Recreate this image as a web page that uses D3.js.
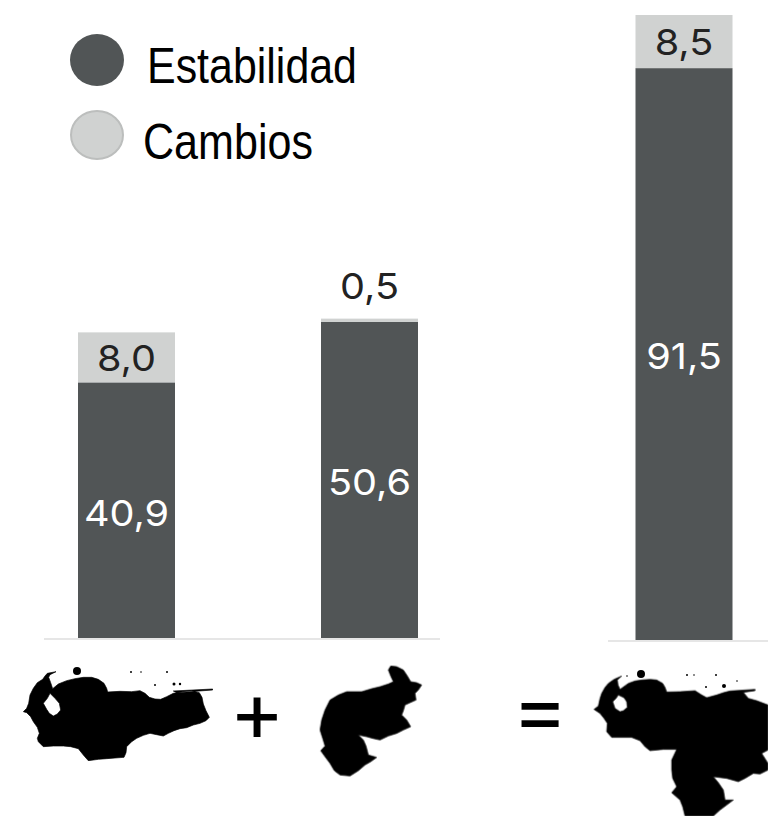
<!DOCTYPE html>
<html lang="es">
<head>
<meta charset="utf-8">
<title>Estabilidad y cambios</title>
<script src="https://d3js.org/d3.v7.min.js"></script>
<style>
html,body{margin:0;padding:0;background:#fff;overflow:hidden;}
svg{display:block;}
.valor{font-family:Inter,"Open Sans",sans-serif;font-size:36px;text-anchor:middle;}
.leyenda{font-family:"Liberation Sans",sans-serif;font-size:50px;fill:#000;}
.signo{font-family:Inter,sans-serif;font-size:84px;text-anchor:middle;fill:#000;}
</style>
</head>
<body>
<div id="chart1"></div>
<script>
// datos
var regiones = ["norte","sur","total"]
var estabilidad = [40.9,50.6,91.5]
var cambios = [8.0,0.5,8.5]
var series = ["Estabilidad","Cambios"]
var colores = ["#515556","#d0d2d1"]

var w = 768, h = 816

// siluetas del mapa (trazadas a mano, coordenadas del zoom 3x)
var mapaNorte = "M70,215 L80,205 L86,190 L90,165 L100,145 L112,128 L128,118 L135,108 L142,100 L168,95 L150,104 L146,112 L152,128 L158,146 L175,132 L200,122 L225,116 L250,112 L275,112 L295,118 L312,130 L320,145 L323,156 L360,154 L395,155 L420,152 L435,160 L448,172 L465,177 L482,178 L500,170 L520,160 L548,155 L575,152 L598,158 L606,172 L610,192 L618,212 L628,232 L618,242 L600,250 L580,255 L560,263 L540,266 L522,272 L505,280 L490,288 L470,284 L450,280 L430,286 L410,295 L395,305 L380,320 L378,338 L372,352 L345,354 L320,356 L295,358 L265,362 L250,345 L235,326 L212,320 L190,318 L160,318 L130,320 L115,305 L112,295 L118,280 L112,262 L100,245 L92,230 L80,218 Z M130,190 L142,175 L150,160 L165,175 L178,190 L182,210 L172,222 L160,228 L148,220 L140,208 Z M520,153 L638,147 L638,150 L530,158 Z"
var mapaSur = "M1165,90 L1172,78 L1190,80 L1210,90 L1222,108 L1232,125 L1250,128 L1265,135 L1255,150 L1245,160 L1248,180 L1230,188 L1215,195 L1210,212 L1205,225 L1220,240 L1232,260 L1210,270 L1190,280 L1165,288 L1140,300 L1118,295 L1100,290 L1075,285 L1090,300 L1098,318 L1105,345 L1130,352 L1112,365 L1095,375 L1075,392 L1050,408 L1020,405 L1003,392 L990,370 L975,350 L962,332 L975,318 L968,295 L960,270 L965,240 L975,210 L990,180 L1015,165 L1040,155 L1085,155 L1115,146 L1140,140 L1165,132 L1180,125 L1172,108 Z"
var mapaTotal = "M282,238 L295,228 L300,205 L305,190 L315,172 L325,160 L342,148 L365,138 L352,150 L354,165 L360,178 L385,160 L405,153 L425,150 L450,148 L470,150 L488,160 L495,172 L500,186 L540,185 L585,182 L605,195 L620,203 L650,195 L670,188 L690,183 L765,178 L765,182 L730,187 L745,205 L770,212 L804,225 L804,360 L785,370 L804,400 L804,420 L780,432 L760,430 L735,445 L715,455 L680,445 L640,440 L655,458 L670,480 L675,510 L700,510 L680,525 L660,540 L640,558 L555,558 L548,530 L540,510 L515,488 L530,470 L518,445 L515,420 L515,390 L530,358 L490,358 L450,362 L435,350 L420,332 L395,322 L380,322 L335,322 L320,305 L322,280 L312,265 L300,250 Z M338,215 L348,205 L355,195 L372,203 L380,215 L382,232 L370,242 L360,245 L345,235 Z"

var svg = d3.select("#chart1").append("svg").attr("width",w).attr("height",h)

var defs = svg.append("defs")
defs.append("filter").attr("id","suave").append("feGaussianBlur").attr("stdDeviation",0.7)

var xScale = d3.scaleOrdinal().domain(regiones).range([126.5,369.5,684])
var base = d3.scaleOrdinal().domain(regiones).range([638,638,640])
var hScale = d3.scaleLinear().domain([0,100]).range([0,625])
var anchoBarra = 97

var filas = regiones.map(function(r,i){
    return {region:r, Estabilidad:estabilidad[i], Cambios:cambios[i]}
})
var apilado = d3.stack().keys(series)(filas)

// lineas de base
svg.append("line").attr("x1",44).attr("x2",440).attr("y1",639).attr("y2",639)
    .attr("stroke","#e6e6e6").attr("stroke-width",2)
svg.append("line").attr("x1",608).attr("x2",768).attr("y1",641).attr("y2",641)
    .attr("stroke","#e6e6e6").attr("stroke-width",2)

// barras
var capas = svg.selectAll("g.capa").data(apilado).enter().append("g").attr("class","capa")
    .attr("fill",function(d,i){ return colores[i] })
capas.selectAll("rect").data(function(d){ return d }).enter().append("rect")
    .attr("x",function(d){ return xScale(d.data.region)-anchoBarra/2 })
    .attr("y",function(d){ return base(d.data.region)-hScale(d[1]) })
    .attr("width",anchoBarra)
    .attr("height",function(d){ return hScale(d[1])-hScale(d[0]) })

// etiquetas, estiradas porque la letra original es mas ancha
capas.selectAll("text").data(function(d){ return d.map(function(p){ return {p:p,key:d.key} }) }).enter().append("text")
    .attr("class","valor")
    .attr("transform",function(d){
        var b = base(d.p.data.region)
        var alto = hScale(d.p[1])-hScale(d.p[0])
        var y = b-hScale(d.p[0])-alto/2+(d.key=="Estabilidad" ? 2 : 0)
        if(alto<15) y = b-hScale(d.p[1])-33 // muy chica, va encima
        return "translate("+xScale(d.p.data.region)+","+y+") scale(1.1,1)"
    })
    .attr("dominant-baseline","central")
    .attr("fill",function(d){ return d.key=="Estabilidad" ? "#fff" : "#222" })
    .text(function(d){ return d3.format(".1f")(d.p[1]-d.p[0]).replace(".",",") })

// leyenda
var leyY = [60,135]
var ley = svg.selectAll("g.ley").data(series).enter().append("g").attr("class","ley")
ley.append("ellipse").attr("cx",97).attr("cy",function(d,i){ return leyY[i] })
    .attr("rx",function(d,i){ return i ? 26 : 27 }).attr("ry",function(d,i){ return i ? 24 : 26 })
    .attr("fill",function(d,i){ return colores[i] })
    .attr("stroke",function(d,i){ return i ? "#bcbebd" : "none" }).attr("stroke-width",2)
ley.append("text").attr("class","leyenda")
    .attr("x",function(d,i){ return i ? 143 : 147 })
    .attr("y",function(d,i){ return [83,159][i] })
    .attr("textLength",function(d,i){ return [210,170][i] })
    .attr("lengthAdjust","spacingAndGlyphs")
    .text(function(d){ return d })

// mapas
var mapas = [[mapaNorte,0,640],[mapaSur,0,640],[mapaTotal,500,630]]
var gm = svg.append("g").attr("filter","url(#suave)")
gm.selectAll("path.mapa").data(mapas).enter().append("path").attr("class","mapa")
    .attr("d",function(d){ return d[0] })
    .attr("fill-rule","evenodd")
    .attr("stroke","#000").attr("stroke-width",2).attr("stroke-linejoin","round")
    .attr("transform",function(d){ return "translate("+d[1]+","+d[2]+") scale("+(1/3)+")" })
// islas y puntitos del caribe
var islas = [[77,671,4],[641,674,4],[131,672,1],[141,672,0.8],[167,672,1],[155,685,1],[174,684,1.5],[180,684,1.2],[627,676,0.8],[687,675,1],[694,675,0.8],[716,675,1],[706,687,1],[724,686,2],[737,681,0.8]]
gm.selectAll("circle.isla").data(islas).enter().append("circle").attr("class","isla")
    .attr("cx",function(d){ return d[0] }).attr("cy",function(d){ return d[1] }).attr("r",function(d){ return d[2] })

// signos
svg.append("text").attr("class","signo").attr("x",257).attr("y",741).text("+")
svg.append("text").attr("class","signo").attr("x",540).attr("y",739).text("=")
</script>
</body>
</html>
